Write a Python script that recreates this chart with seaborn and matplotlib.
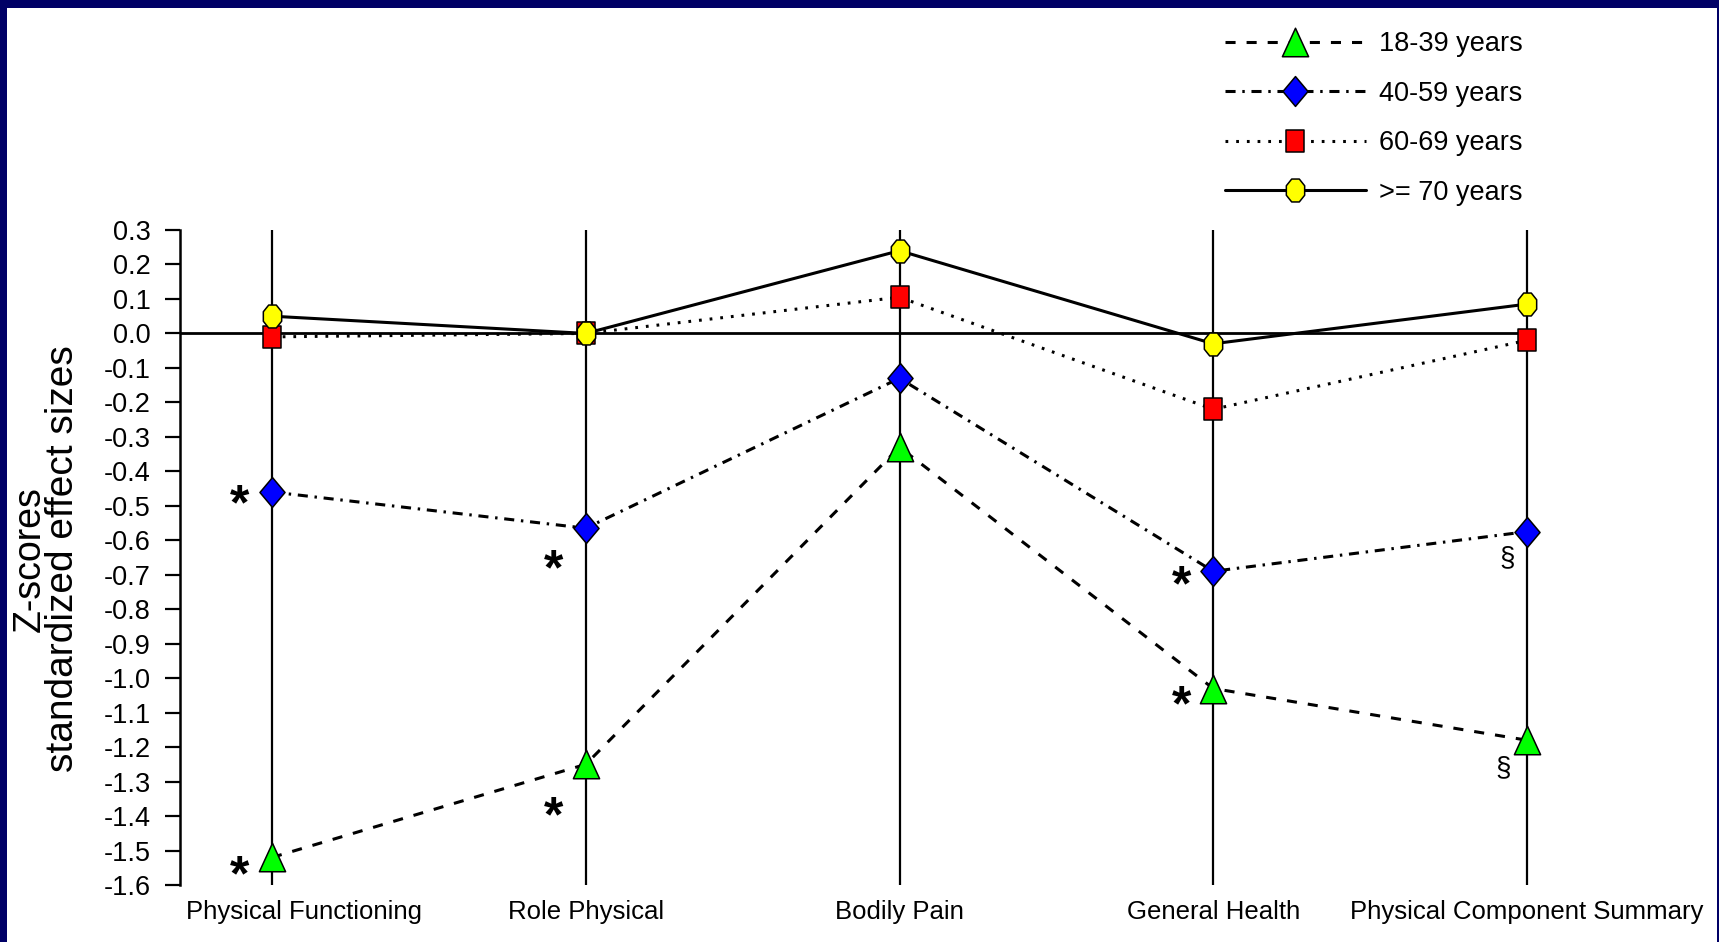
import numpy as np
import pandas as pd
import matplotlib
matplotlib.use("Agg")
import matplotlib.pyplot as plt
import matplotlib.transforms as mtransforms
from matplotlib.patches import Rectangle
from matplotlib.path import Path
import seaborn as sns

# ---------------------------------------------------------------- data
domains = ["Physical Functioning", "Role Physical", "Bodily Pain",
           "General Health", "Physical Component Summary"]
age_groups = ["18-39 years", "40-59 years", "60-69 years", ">= 70 years"]

z_18_39 = [-1.52, -1.25, -0.33, -1.03, -1.18]
z_40_59 = [-0.46, -0.565, -0.13, -0.69, -0.575]
z_60_69 = [-0.01, 0.0, 0.105, -0.22, -0.02]
z_70_plus = [0.05, 0.0, 0.24, -0.03, 0.085]

y_ticks = np.round(np.arange(-1.6, 0.301, 0.1), 1)

# significance symbols: (age group, domain, symbol)
sig_marks = [
    ("40-59 years", "Physical Functioning", "*"),
    ("18-39 years", "Physical Functioning", "*"),
    ("40-59 years", "Role Physical", "*"),
    ("18-39 years", "Role Physical", "*"),
    ("40-59 years", "General Health", "*"),
    ("18-39 years", "General Health", "*"),
    ("40-59 years", "Physical Component Summary", "\u00a7"),
    ("18-39 years", "Physical Component Summary", "\u00a7"),
]

values = {
    "18-39 years": z_18_39,
    "40-59 years": z_40_59,
    "60-69 years": z_60_69,
    ">= 70 years": z_70_plus,
}
df = pd.DataFrame(
    [(g, d, v) for g in age_groups for d, v in zip(domains, values[g])],
    columns=["age", "domain", "z"],
)

# ---------------------------------------------------------------- styling
sns.set_style("white")
plt.rcParams["font.family"] = ["Liberation Sans", "DejaVu Sans"]
plt.rcParams["text.color"] = "black"
plt.rcParams["xtick.color"] = "black"
plt.rcParams["ytick.color"] = "black"
plt.rcParams["axes.labelcolor"] = "black"
plt.rcParams["mathtext.fontset"] = "custom"
plt.rcParams["mathtext.rm"] = "Liberation Sans"
plt.rcParams["mathtext.bf"] = "Liberation Sans:bold"

def poly(verts):
    verts = list(verts) + [verts[0]]
    codes = [Path.MOVETO] + [Path.LINETO] * (len(verts) - 2) + [Path.CLOSEPOLY]
    return Path(verts, codes)

ang = np.deg2rad(22.5 + 45 * np.arange(8))
octagon = poly([(0.8 * np.cos(a), np.sin(a)) for a in ang])
triangle = poly([(0, 0.5), (-0.46, -0.5), (0.46, -0.5)])
diamond = poly([(0, 0.5), (0.42, 0), (0, -0.5), (-0.42, 0)])
square = poly([(-0.42, -0.5), (0.42, -0.5), (0.42, 0.5), (-0.42, 0.5)])

series_style = {
    "18-39 years": dict(marker=triangle, ms=20.5, mfc="#00ff00", ls=(0, (3.3, 3.6))),
    "40-59 years": dict(marker=diamond, ms=21.5, mfc="#0000ff", ls=(0, (3.3, 2.2, 0.8, 2.2))),
    "60-69 years": dict(marker=square, ms=16, mfc="#ff0000", ls=(0, (0.9, 2.6))),
    ">= 70 years": dict(marker=octagon, ms=16.5, mfc="#ffff00", ls="-"),
}

W, H = 1719, 942
fig = plt.figure(figsize=(W / 100, H / 100), dpi=100)
fig.set_facecolor("#000066")
fig.patches.append(Rectangle((7 / W, 0), (1717 - 7) / W, (H - 8) / H,
                             transform=fig.transFigure, facecolor="white",
                             edgecolor="none", zorder=-1))

ax_left, ax_right = 180, 1700
ax_top, ax_bottom = 230, 885
ax = fig.add_axes([ax_left / W, 1 - ax_bottom / H,
                   (ax_right - ax_left) / W, (ax_bottom - ax_top) / H])
ax.set_facecolor("none")

step = (1527 - 272) / 4
x0 = -(272 - ax_left) / step
x1 = 4 + (ax_right - 1527) / step

# category guide lines and zero reference
ax.vlines(range(len(domains)), y_ticks[0], y_ticks[-1], color="black",
          lw=1.6, zorder=1)
ax.hlines(0, x0, len(domains) - 1, color="black", lw=2.0, zorder=1)

for g in age_groups:
    st = series_style[g]
    sns.lineplot(data=df[df["age"] == g], x="domain", y="z", ax=ax,
                 sort=False, errorbar=None, color="black", lw=2.2,
                 linestyle=st["ls"], marker=st["marker"], markersize=st["ms"],
                 markerfacecolor=st["mfc"], markeredgecolor="black",
                 markeredgewidth=1.1, label=g, zorder=3)

ax.set_xlim(x0, x1)
ax.set_ylim(y_ticks[0], y_ticks[-1])
ax.set_xticks(range(len(domains)))
ax.set_xticklabels(domains, fontsize=18.5)
ax.set_yticks(y_ticks)
ax.set_yticklabels([f"{v:.1f}" if v != 0 else "0.0" for v in y_ticks],
                   fontsize=19.5)
ax.set_xlabel("")
ax.set_ylabel("")
ax.tick_params(axis="x", length=0, pad=11)
ax.tick_params(axis="y", direction="out", length=11, width=1.6, pad=10,
               left=True, color="black")
for s in ["top", "right", "bottom"]:
    ax.spines[s].set_visible(False)
ax.spines["left"].set_color("black")
ax.spines["left"].set_linewidth(1.8)

# first category label sits a little to the right of its guide line
lab0 = ax.get_xticklabels()[0]
lab0.set_transform(lab0.get_transform() +
                   mtransforms.ScaledTranslation(0.32, 0, fig.dpi_scale_trans))

# significance symbols beside the markers (offsets in pixels)
sig_offset = {
    ("40-59 years", "Physical Functioning"): (-32, 13),
    ("18-39 years", "Physical Functioning"): (-32, 19),
    ("40-59 years", "Role Physical"): (-32, 42),
    ("18-39 years", "Role Physical"): (-32, 53),
    ("40-59 years", "General Health"): (-32, 15),
    ("18-39 years", "General Health"): (-32, 18),
    ("40-59 years", "Physical Component Summary"): (-20, 27),
    ("18-39 years", "Physical Component Summary"): (-24, 29),
}
for g, d, sym in sig_marks:
    xi = domains.index(d)
    yv = values[g][xi]
    dx, dy = sig_offset[(g, d)]
    if sym == "*":
        txt, fs = r"$\mathbf{*}$", 36
    else:
        txt, fs = "$" + sym + "$", 20
    ax.annotate(txt, xy=(xi, yv), xytext=(dx * 0.72, -dy * 0.72),
                textcoords="offset points", ha="center", va="center",
                fontsize=fs, color="black", zorder=4)

fig.text(30 / W, 1 - 559 / H, "Z-scores", rotation=90, ha="center",
         va="center", fontsize=27)
fig.text(63 / W, 1 - 559 / H, "standardized effect sizes", rotation=90,
         ha="center", va="center", fontsize=28)

handles, labels = ax.get_legend_handles_labels()
ax.legend(handles, labels, loc="upper left",
          bbox_to_anchor=(1225 / W, 1 - 31 / H), bbox_transform=fig.transFigure,
          frameon=False, fontsize=19.5, handlelength=5.2, handletextpad=0.5,
          labelspacing=0.87, borderpad=0, borderaxespad=0, numpoints=1)

fig.savefig("out.png", dpi=100, facecolor=fig.get_facecolor())
